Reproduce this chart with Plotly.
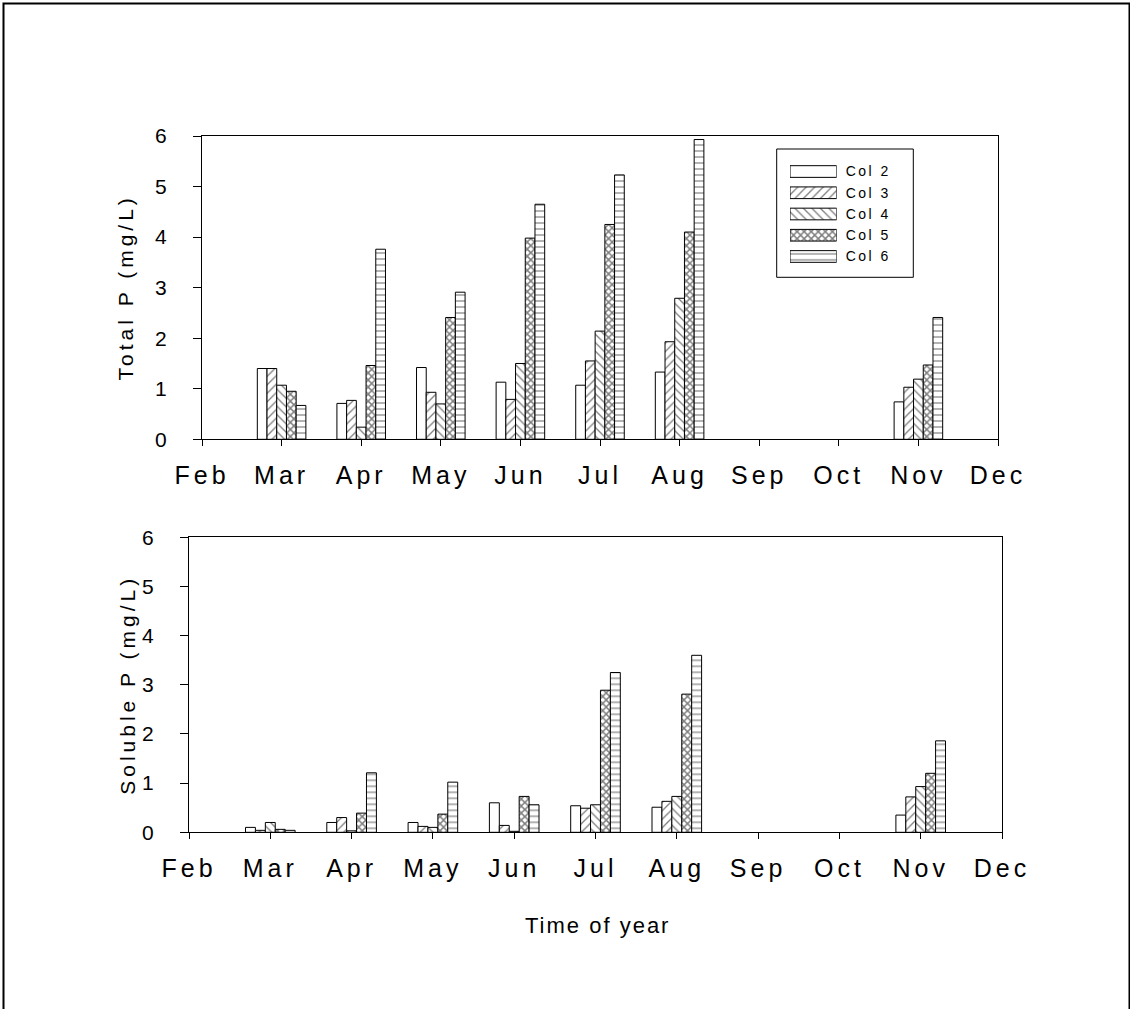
import plotly.graph_objects as go

# ---- data ----
tick_labels = ["Feb", "Mar", "Apr", "May", "Jun", "Jul", "Aug", "Sep", "Oct", "Nov", "Dec"]
months = ["Mar", "Apr", "May", "Jun", "Jul", "Aug", "Nov"]
series_names = ["Col 2", "Col 3", "Col 4", "Col 5", "Col 6"]

total_col2 = [1.40, 0.71, 1.42, 1.13, 1.07, 1.33, 0.74]
total_col3 = [1.40, 0.77, 0.93, 0.79, 1.55, 1.93, 1.03]
total_col4 = [1.07, 0.24, 0.70, 1.50, 2.14, 2.79, 1.19]
total_col5 = [0.95, 1.46, 2.41, 3.98, 4.25, 4.10, 1.47]
total_col6 = [0.67, 3.76, 2.91, 4.65, 5.23, 5.93, 2.41]

soluble_col2 = [0.10, 0.20, 0.20, 0.60, 0.54, 0.51, 0.35]
soluble_col3 = [0.04, 0.30, 0.12, 0.14, 0.49, 0.63, 0.72]
soluble_col4 = [0.20, 0.03, 0.10, 0.02, 0.56, 0.73, 0.93]
soluble_col5 = [0.06, 0.39, 0.37, 0.73, 2.89, 2.81, 1.20]
soluble_col6 = [0.04, 1.21, 1.02, 0.56, 3.25, 3.60, 1.86]

y_ticks = [0, 1, 2, 3, 4, 5, 6]

# ---- styling ----
patterns = ["", "/", "\\", "x", "-"]
pat_solidity = [0.2, 0.22, 0.22, 0.5, 0.2]
pat_size = [6, 6, 6, 5, 6]
FONT = "Liberation Sans, Arial, sans-serif"
W, H = 1130, 1009

def px_x(p):
    return p / W

def px_y(p):
    return (H - p) / H

def spaced(text, ls):
    return "<span style='letter-spacing:%spx'>%s</span>" % (ls, text)

def pattern(shape, solid, size):
    return dict(shape=shape, fgcolor="black", bgcolor="white", size=size, solidity=solid)

x_pos = [tick_labels.index(m) for m in months]

fig = go.Figure()

total = [total_col2, total_col3, total_col4, total_col5, total_col6]
soluble = [soluble_col2, soluble_col3, soluble_col4, soluble_col5, soluble_col6]

for name, vals, pat, sol, sz in zip(series_names, total, patterns, pat_solidity, pat_size):
    fig.add_trace(go.Bar(
        x=x_pos, y=vals, name=name, xaxis="x", yaxis="y", showlegend=False,
        marker=dict(color="white", line=dict(color="black", width=1),
                    pattern=pattern(pat, sol, sz)),
    ))
for name, vals, pat, sol, sz in zip(series_names, soluble, patterns, pat_solidity, pat_size):
    fig.add_trace(go.Bar(
        x=x_pos, y=vals, name=name, xaxis="x2", yaxis="y2", showlegend=False,
        marker=dict(color="white", line=dict(color="black", width=1),
                    pattern=pattern(pat, sol, sz)),
    ))

# legend swatches drawn as a tiny bar chart
fig.add_trace(go.Bar(
    x=[1] * len(series_names), y=series_names, orientation="h",
    xaxis="x3", yaxis="y3", showlegend=False, width=0.55,
    marker=dict(color="white", line=dict(color="black", width=1),
                pattern=dict(shape=patterns, fgcolor="black", bgcolor="white",
                             size=pat_size, solidity=pat_solidity)),
    hoverinfo="skip",
))

common_x = dict(
    range=[0, len(tick_labels) - 1], tickmode="array",
    tickvals=list(range(len(tick_labels))),
    ticktext=[spaced(t, 4) for t in tick_labels],
    showline=True, linecolor="black", linewidth=1, mirror=True,
    ticks="outside", ticklen=6, tickcolor="black", tickwidth=1,
    showgrid=False, zeroline=False, automargin=False,
    tickfont=dict(family=FONT, size=25, color="black"),
    ticklabelstandoff=8, fixedrange=True,
)
common_y = dict(
    range=[0, 6], tickmode="array", tickvals=y_ticks,
    showline=True, linecolor="black", linewidth=1, mirror=True,
    ticks="outside", ticklen=8, tickcolor="black", tickwidth=1,
    showgrid=False, zeroline=False, automargin=False,
    tickfont=dict(family=FONT, size=21, color="black"),
    ticklabelstandoff=22, fixedrange=True,
)

fig.update_layout(
    width=W, height=H, autosize=False,
    margin=dict(l=0, r=0, t=0, b=0, pad=0),
    paper_bgcolor="white", plot_bgcolor="white",
    barmode="group", bargap=0.39, bargroupgap=0,
    xaxis=dict(domain=[px_x(202), px_x(998)], anchor="y", **common_x),
    yaxis=dict(domain=[px_y(439.3), px_y(136)], anchor="x", **common_y),
    xaxis2=dict(domain=[px_x(189), px_x(1002)], anchor="y2", **common_x),
    yaxis2=dict(domain=[px_y(832.3), px_y(537.3)], anchor="x2", **common_y),
    xaxis3=dict(domain=[px_x(790), px_x(836.7)], anchor="y3", range=[0, 1],
                visible=False, fixedrange=True, automargin=False),
    yaxis3=dict(domain=[px_y(267.1), px_y(160.9)], anchor="x3", type="category",
                categoryorder="array", categoryarray=series_names,
                tickmode="array", tickvals=series_names,
                ticktext=[spaced(s, 2.5) for s in series_names],
                range=[len(series_names) - 0.5, -0.5], side="right",
                showline=False, ticks="", showgrid=False, zeroline=False,
                automargin=False,
                tickfont=dict(family=FONT, size=14, color="black"),
                ticklabelstandoff=8, fixedrange=True),
    showlegend=False,
    font=dict(family=FONT, color="black"),
    shapes=[
        dict(type="rect", xref="paper", yref="paper",
             x0=px_x(776.7), x1=px_x(913.3), y0=px_y(277.3), y1=px_y(149),
             line=dict(color="black", width=1)),
        dict(type="rect", xref="paper", yref="paper",
             x0=px_x(3.5), x1=px_x(1129.5), y0=px_y(1015), y1=px_y(3.5),
             line=dict(color="black", width=2)),
    ],
    annotations=[
        dict(text=spaced("Total P (mg/L)", 4), xref="paper", yref="paper",
             x=px_x(125), y=px_y(287.5), textangle=-90, showarrow=False,
             xanchor="center", yanchor="middle",
             font=dict(family=FONT, size=21, color="black")),
        dict(text=spaced("Soluble P (mg/L)", 4), xref="paper", yref="paper",
             x=px_x(128), y=px_y(684.8), textangle=-90, showarrow=False,
             xanchor="center", yanchor="middle",
             font=dict(family=FONT, size=21, color="black")),
        dict(text=spaced("Time of year", 2), xref="paper", yref="paper",
             x=px_x(597), y=px_y(925), showarrow=False,
             xanchor="center", yanchor="middle",
             font=dict(family=FONT, size=22, color="black")),
    ],
)

fig.write_html(
    "out.html",
    config={"displayModeBar": False},
    post_script="document.body.style.margin='0px';document.body.style.overflow='hidden';",
)
